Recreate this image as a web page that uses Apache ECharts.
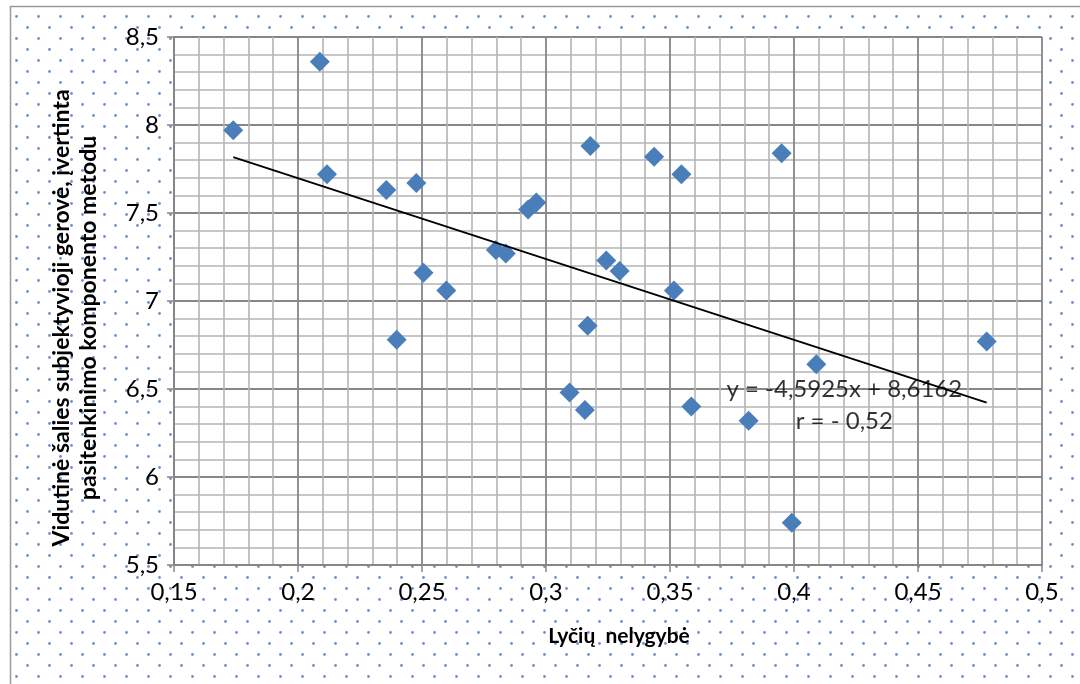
<!DOCTYPE html>
<html>
<head>
<meta charset="utf-8">
<script src="https://cdn.jsdelivr.net/npm/echarts@6/dist/echarts.min.js"></script>
<style>
  html, body { margin: 0; padding: 0; background: #fff; }
  #chart { width: 1080px; height: 684px; }
</style>
</head>
<body>
<div id="chart"></div>
<script>
// Lyčių nelygybė vs. subjektyvioji gerovė (scatter + tiesinis trendas)

const inequality = [0.1739, 0.2088, 0.2117, 0.2356, 0.2477, 0.2506, 0.2598, 0.2798, 0.2838,
                    0.2928, 0.2961, 0.3179, 0.3243, 0.3297, 0.3436, 0.3546, 0.3516, 0.3950,
                    0.2398, 0.3168, 0.3095, 0.3157, 0.3586, 0.3817, 0.4090, 0.4777, 0.3991];
const wellbeing = [7.97, 8.36, 7.72, 7.63, 7.67, 7.16, 7.06, 7.29, 7.27,
                   7.52, 7.56, 7.88, 7.23, 7.17, 7.82, 7.72, 7.06, 7.84,
                   6.78, 6.86, 6.48, 6.38, 6.40, 6.32, 6.64, 6.77, 5.74];

// trendo linijos galai (nuskaityti iš paveikslo)
const trendX = [0.1739, 0.4777];
const trendY = [7.818, 6.422];

// lygties užrašas
const eqText = ['y = -4,5925x + 8,6162', 'r = - 0,52'];
const eqAt = [0.4203, 6.407];

const xTitle = 'Lyčių  nelygybė';
const yTitle = ['Vidutinė šalies subjektyvioji gerovė, įvertinta', 'pasitenkinimo komponento metodu'];

const COLORS = {
    point: '#4a7ebb',
    major: '#868686',
    minor: '#b4b4b4',
    dot: 'rgba(79, 129, 199, 0.85)'
};

// taškuotas fonas
function dotPattern() {
    const c = document.createElement('canvas');
    c.width = 22; c.height = 22;
    const g = c.getContext('2d');
    g.fillStyle = COLORS.dot;
    [[5.5, 5.5], [16.5, 16.5]].forEach(p => {
        g.beginPath();
        g.arc(p[0], p[1], 1.4, 0, Math.PI * 2);
        g.fill();
    });
    return c;
}

const fmt = v => String(+v.toFixed(2)).replace('.', ',');
const FONT = 'Lato, "Open Sans", sans-serif';

const chart = echarts.init(document.getElementById('chart'), null, { renderer: 'canvas' });

chart.setOption({
    animation: false,
    backgroundColor: '#fff',
    grid: { left: 174, right: 38, top: 37, bottom: 119, show: true, backgroundColor: '#fff', borderWidth: 0 },
    graphic: [
        {
            type: 'rect', z: -100, silent: true,
            shape: { x: 10.5, y: 6.5, width: 1200, height: 800 },
            style: { fill: { image: dotPattern(), repeat: 'repeat' }, stroke: '#9a9a9a', lineWidth: 1.5 }
        },
        {
            type: 'text', z: 100, silent: true,
            x: 75, y: 318, rotation: Math.PI / 2,
            style: {
                text: yTitle.join('\n'), x: 0, y: 0,
                align: 'center', verticalAlign: 'middle', lineHeight: 27,
                font: 'bold 23px ' + FONT, fill: '#000'
            }
        }
    ],
    xAxis: {
        type: 'value',
        min: 0.15, max: 0.5, interval: 0.05,
        name: xTitle,
        nameLocation: 'middle',
        nameGap: 61,
        nameTextStyle: { fontFamily: FONT, fontSize: 21, fontWeight: 'bold', color: '#000', padding: [0, 0, 0, 22] },
        axisLine: { show: true, lineStyle: { color: COLORS.major, width: 1.8 } },
        axisTick: { show: true, length: 7, lineStyle: { color: COLORS.major, width: 1.5 } },
        axisLabel: { fontFamily: FONT, fontSize: 24, color: '#000', margin: 15, formatter: fmt },
        splitLine: { show: true, lineStyle: { color: COLORS.major, width: 1.8 } },
        minorTick: { show: false, splitNumber: 5 },
        minorSplitLine: { show: true, lineStyle: { color: COLORS.minor, width: 1.6 } }
    },
    yAxis: {
        type: 'value',
        min: 5.5, max: 8.5, interval: 0.5,
        axisLine: { show: true, lineStyle: { color: COLORS.major, width: 1.8 } },
        axisTick: { show: true, length: 7, lineStyle: { color: COLORS.major, width: 1.5 } },
        axisLabel: { fontFamily: FONT, fontSize: 24, color: '#000', margin: 15, formatter: fmt },
        splitLine: { show: true, lineStyle: { color: COLORS.major, width: 1.8 } },
        minorTick: { show: false, splitNumber: 5 },
        minorSplitLine: { show: true, lineStyle: { color: COLORS.minor, width: 1.6 } }
    },
    series: [
        {
            name: 'Šalys',
            type: 'scatter',
            symbol: 'diamond',
            symbolSize: 20,
            itemStyle: { color: COLORS.point, opacity: 1 },
            data: inequality.map((x, i) => [x, wellbeing[i]]),
            z: 3
        },
        {
            name: 'Trendas',
            type: 'line',
            symbol: 'none',
            lineStyle: { color: '#000', width: 1.8 },
            data: trendX.map((x, i) => [x, trendY[i]]),
            z: 4
        },
        {
            name: 'Lygtis',
            type: 'scatter',
            symbolSize: 0,
            silent: true,
            label: {
                show: true,
                position: 'inside',
                formatter: eqText.join('\n'),
                fontFamily: FONT, fontSize: 24, lineHeight: 32, color: '#000', align: 'center'
            },
            data: [eqAt],
            z: 5
        }
    ]
});
</script>
</body>
</html>
